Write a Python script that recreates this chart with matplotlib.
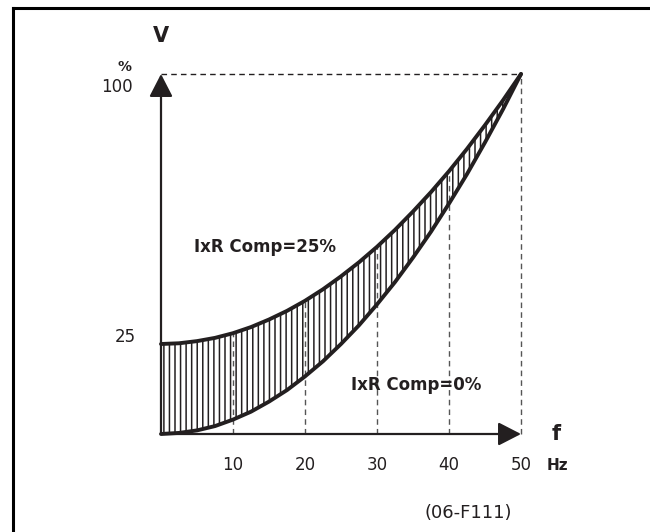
import numpy as np
import matplotlib
matplotlib.use("Agg")
import matplotlib.pyplot as plt
from matplotlib.lines import Line2D

# ---- data ----
freq = [0, 2.5, 5, 7.5, 10, 12.5, 15, 17.5, 20, 22.5, 25, 27.5, 30, 32.5, 35, 37.5, 40, 42.5, 45, 47.5, 50]
v_comp25 = [25, 25.2, 25.8, 26.7, 28, 29.7, 31.8, 34.2, 37, 40.2, 43.8, 47.7, 52, 56.7, 61.8, 67.2, 73, 79.2, 85.8, 92.7, 100]
v_comp0 = [0, 0.3, 1, 2.2, 4, 6.2, 9, 12.2, 16, 20.2, 25, 30.2, 36, 42.2, 49, 56.2, 64, 72.2, 81, 90.2, 100]
x_ticks = [10, 20, 30, 40, 50]
x_tick_labels = ["10", "20", "30", "40", "50"]
dashed_f = [10, 20, 30, 40, 50]

INK = "#231f20"
GREY = "#555555"
plt.rcParams['font.family'] = ['DejaVu Sans']
plt.rcParams['hatch.linewidth'] = 1.1

fig = plt.figure(figsize=(6.5, 5.32), dpi=100)
ax = fig.add_axes([0, 0, 1, 1])
# pixel mapping: f=0 -> x 161, f=50 -> x 521 ; v=0 -> y 434, v=100 -> y 74
ax.set_xlim((0 - 161) / 7.2, (650 - 161) / 7.2)
ax.set_ylim((434 - 532) / 3.6, 434 / 3.6)
ax.axis('off')

fA = np.array(freq)
up = np.array(v_comp25)
lo = np.array(v_comp0)

# hatched region
ax.fill_between(fA, lo, up, facecolor='none', edgecolor=INK, hatch='|||', linewidth=0, zorder=2)

# dashed guide lines
for f in dashed_f:
    top = np.interp(f, fA, up)
    ax.plot([f, f], [0, top], ls=(0, (4, 3)), color=GREY, lw=1.0, zorder=3)
ax.plot([0, 50], [100, 100], ls=(0, (4, 3)), color=INK, lw=1.0, zorder=3)

# curves
ax.plot(fA, up, color=INK, lw=2.8, solid_capstyle='round', zorder=5)
ax.plot(fA, lo, color=INK, lw=2.8, solid_capstyle='round', zorder=5)

# axes with arrows
arrow = dict(arrowstyle='-|>,head_length=0.7,head_width=0.36', mutation_scale=20,
             lw=1.6, color=INK, shrinkA=0, shrinkB=0)
ax.annotate('', xy=(50, 0), xytext=(0, 0), arrowprops=arrow, zorder=6)
ax.annotate('', xy=(0, 100), xytext=(0, 0), arrowprops=arrow, zorder=6)

def P(px, py):
    return (px - 161) / 7.2, (434 - py) / 3.6

# tick labels
for f, lab in zip(x_ticks, x_tick_labels):
    ax.text(f, P(0, 465)[1], lab, ha='center', va='center', fontsize=12, color=INK)
ax.text(*P(125, 337), "25", ha='center', va='center', fontsize=12, color=INK)
ax.text(*P(117, 87), "100", ha='center', va='center', fontsize=12, color=INK)
ax.text(*P(125, 67), "%", ha='center', va='center', fontsize=10, fontweight='bold', color=INK)
ax.text(*P(161, 36), "V", ha='center', va='center', fontsize=15, fontweight='bold', color=INK)
ax.text(*P(556, 434), "f", ha='center', va='center', fontsize=15, fontweight='bold', color=INK)
ax.text(*P(557, 466), "Hz", ha='center', va='center', fontsize=11, fontweight='bold', color=INK)
ax.text(*P(265, 247), "IxR Comp=25%", ha='center', va='center', fontsize=12, fontweight='bold', color=INK)
ax.text(*P(416, 385), "IxR Comp=0%", ha='center', va='center', fontsize=12, fontweight='bold', color=INK)
ax.text(*P(468, 513), "(06-F111)", ha='center', va='center', fontsize=13, color=INK)

# frame (left and top)
fig.add_artist(Line2D([13 / 650, 13 / 650], [0, 1 - 8 / 532], transform=fig.transFigure, color='black', lw=2.2))
fig.add_artist(Line2D([13 / 650, 1], [1 - 8 / 532, 1 - 8 / 532], transform=fig.transFigure, color='black', lw=2.2))

fig.savefig("out.png", dpi=100, facecolor='white')
